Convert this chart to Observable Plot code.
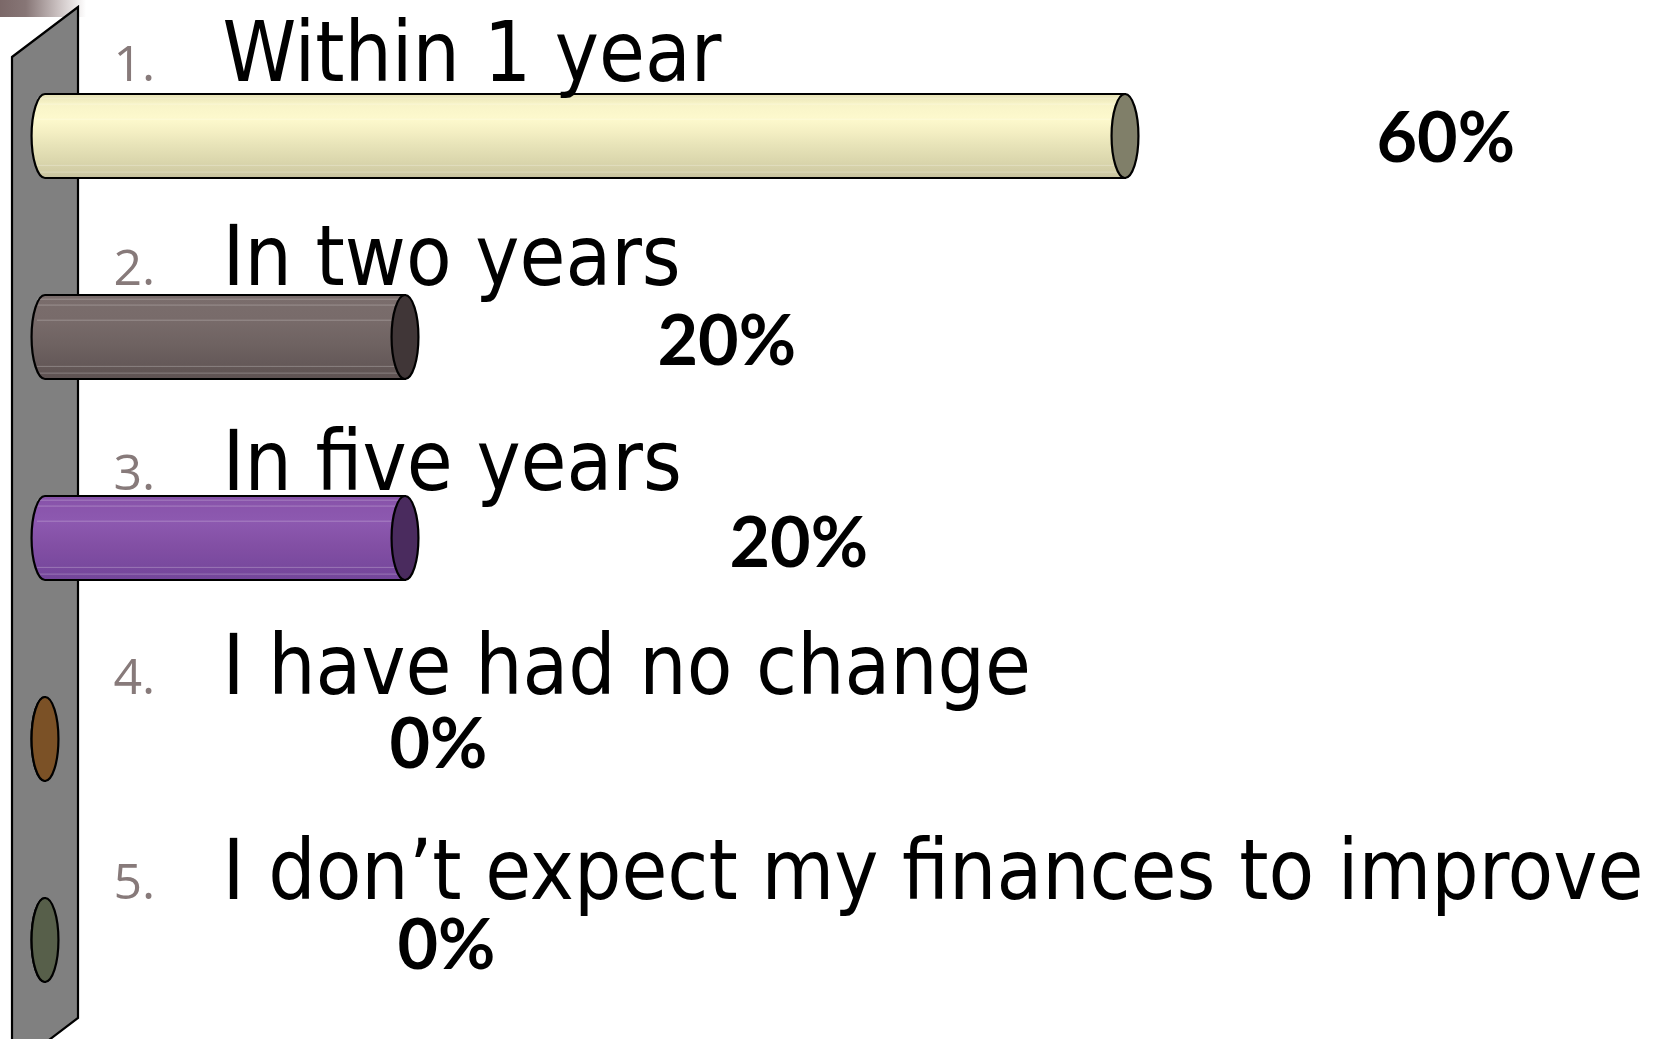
<!DOCTYPE html>
<html><head><meta charset="utf-8">
<script src="https://cdn.jsdelivr.net/npm/d3@7"></script>
<script src="https://cdn.jsdelivr.net/npm/@observablehq/plot@0.6"></script>
<style>
html,body{margin:0;padding:0;background:#fff;overflow:hidden}
#chart{position:relative;width:1664px;height:1039px}
#corner{position:absolute;left:0;top:0;width:86px;height:17px;background:linear-gradient(to right,#7b6868 0%,#877676 30%,#cfc6c6 70%,#fff 100%)}
#chart svg{position:absolute;left:0;top:0}
</style></head><body>
<div id="chart"><div id="corner"></div></div>
<script>
// ---- data ----
const categories = ["Within 1 year", "In two years", "In five years", "I have had no change", "I don’t expect my finances to improve"];
const values = [60, 20, 20, 0, 0];
const valueLabels = ["60%", "20%", "20%", "0%", "0%"];
const numbers = ["1.", "2.", "3.", "4.", "5."];

// ---- styles ----
const bodyStops = [
  [["0", "#e6e2b6"], ["0.12", "#f8f4c8"], ["0.3", "#fdf9cd"], ["0.45", "#f4efc3"], ["0.6", "#e8e4b9"], ["0.78", "#dcd8ae"], ["0.92", "#d2cda6"], ["1", "#c6c19e"]],
  [["0", "#7a6d6c"], ["0.3", "#786b6a"], ["0.6", "#6e6261"], ["1", "#5e5252"]],
  [["0", "#8752a9"], ["0.3", "#8d59b0"], ["0.6", "#824fa4"], ["1", "#73459a"]],
  [["0", "#a0703a"], ["1", "#7b5126"]],
  [["0", "#6e7760"], ["1", "#575f4a"]]
];
const capColors = ["#807f69", "#403637", "#4a2b5e", "#7b5126", "#575f4a"];
const labelNudge = [251, 252, 324, 344, 352];
const labelLift = [-3, -1, 0, 0, 0];
const titleShift = [-56, -52.5, -49, -45.5, -42];

const rows = categories.map((c, i) => ({category: c, value: values[i], label: valueLabels[i], num: numbers[i], i}));

function cylinderRender(index, scales, channels, dimensions, context, next) {
  const g = next(index, scales, channels, dimensions, context);
  const rects = Array.from(g.querySelectorAll("rect"));
  const out = d3.create("svg:g");
  const defs = out.append("defs");
  rects.forEach((r, j) => {
    const i = index[j];
    const lg = defs.append("linearGradient").attr("id", "cyl" + i).attr("x1", 0).attr("y1", 0).attr("x2", 0).attr("y2", 1);
    bodyStops[i].forEach(([o, c]) => lg.append("stop").attr("offset", o).attr("stop-color", c));
    const x = +r.getAttribute("x"), y = +r.getAttribute("y");
    const w = +r.getAttribute("width"), h = +r.getAttribute("height");
    const rx = h * 0.16, ry = h / 2, yc = y + h / 2;
    const x0 = x, x1 = x + w;
    const d = `M${x0},${y}L${x1},${y}L${x1},${y + h}L${x0},${y + h}A${rx},${ry} 0 0 1 ${x0},${y}Z`;
    out.append("path").attr("d", d).attr("fill", `url(#cyl${i})`);
    if (w > 0) {
      [0.05, 0.12, 0.3, 0.85, 0.93].forEach(f => {
        out.append("line").attr("x1", x0 - rx * 0.6).attr("x2", x1 - rx * 0.3)
          .attr("y1", y + h * f).attr("y2", y + h * f)
          .attr("stroke", "#fff").attr("stroke-opacity", 0.25).attr("stroke-width", 1);
      });
    }
    out.append("path").attr("d", d).attr("fill", "none").attr("stroke", "#000").attr("stroke-width", 2.2);
    out.append("ellipse").attr("cx", x1).attr("cy", yc).attr("rx", rx).attr("ry", ry)
      .attr("fill", capColors[i]).attr("stroke", "#000").attr("stroke-width", 2.2);
  });
  return out.node();
}

const marks = [
  Plot.barX(rows, {x: "value", y: "category", fill: "#ccc", render: cylinderRender}),
  ...rows.map((r, i) => Plot.text([r], {y: "category", text: "num", frameAnchor: "left", dx: 68, dy: titleShift[i], textAnchor: "start", lineAnchor: "bottom", fontSize: 50, fill: "#877a7a", fontFamily: "Open Sans"})),
  ...rows.map((r, i) => Plot.text([r], {y: "category", text: "category", frameAnchor: "left", dx: 177, dy: titleShift[i], textAnchor: "start", lineAnchor: "bottom", fontSize: 83, fill: "#000", fontFamily: "DejaVu Sans Condensed, DejaVu Sans"})),
  ...rows.map((r, i) => Plot.text([r], {x: "value", y: "category", text: "label", dx: labelNudge[i], dy: 28 + labelLift[i], textAnchor: "start", lineAnchor: "bottom", fontSize: 70, fontWeight: "bold", fill: "#000", fontFamily: "Lato"}))
];

const plot = Plot.plot({
  width: 1664, height: 1039,
  marginLeft: 45, marginRight: 539, marginTop: 0, marginBottom: 0,
  x: {domain: [0, 60], axis: null},
  y: {domain: categories, range: [-26, 1102], padding: 118 / 202, axis: null},
  style: {background: "transparent", overflow: "visible"},
  marks
});

// back wall of the 3D chart, placed relative to the zero of the x scale
const xs = plot.scale("x");
const z = xs.apply ? xs.apply(0) : 45;
d3.select(plot).insert("polygon", ":first-child")
  .attr("points", [[z - 33, 57], [z + 33, 7], [z + 33, 1018], [z - 33, 1068]].map(p => p.join(",")).join(" "))
  .attr("fill", "#808080").attr("stroke", "#000").attr("stroke-width", 2.2);

document.getElementById("chart").appendChild(plot);
</script>
</body></html>
